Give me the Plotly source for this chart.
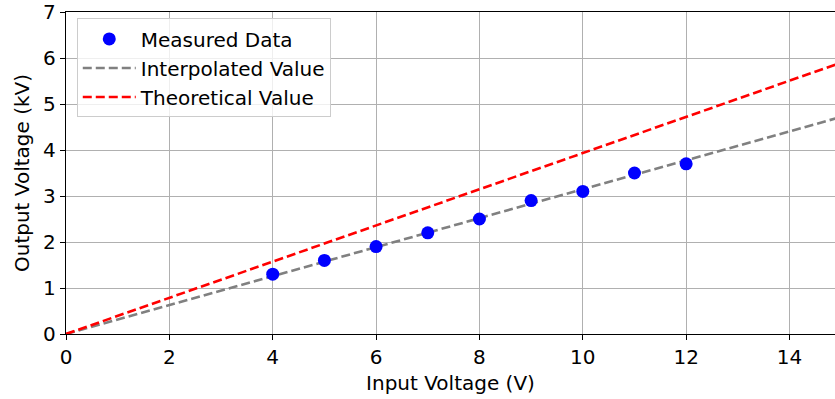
import plotly.graph_objects as go

measured_x = [4, 5, 6, 7, 8, 9, 10, 11, 12]
measured_y = [1.3, 1.6, 1.9, 2.2, 2.5, 2.9, 3.1, 3.5, 3.7]
interp_x = [0, 15]
interp_y = [0, 4.72]
theory_x = [0, 15]
theory_y = [0, 5.9]

FONT = "DejaVu Sans"
FS = 20
fig = go.Figure()
fig.add_trace(go.Scatter(x=interp_x, y=interp_y, mode="lines", name="Interpolated Value",
                         line=dict(color="gray", width=2.6, dash="9px,4px"),
                         legendrank=2, legendgroup="b"))
fig.add_trace(go.Scatter(x=theory_x, y=theory_y, mode="lines", name="Theoretical Value",
                         line=dict(color="red", width=2.6, dash="9px,4px"),
                         legendrank=3, legendgroup="c"))
fig.add_trace(go.Scatter(x=measured_x, y=measured_y, mode="markers", name="Measured Data",
                         marker=dict(color="blue", size=13), legendrank=1, legendgroup="a"))

axis_common = dict(showgrid=True, gridcolor="#b0b0b0", gridwidth=1.2, showline=True,
                   linecolor="black", linewidth=1.3, ticks="outside", ticklen=5,
                   tickcolor="black", tickfont=dict(family=FONT, size=FS, color="black"),
                   zeroline=False)
fig.update_layout(
    width=835, height=399,
    margin=dict(l=66, r=0, t=12, b=65),
    plot_bgcolor="white", paper_bgcolor="white",
    font=dict(family=FONT, size=FS, color="black"),
    xaxis=dict(range=[0, 14.88], dtick=2, mirror=True,
               title=dict(text="Input Voltage (V)", font=dict(family=FONT, size=FS), standoff=7),
               **axis_common),
    yaxis=dict(range=[0, 7], dtick=1,
               title=dict(text="Output Voltage (kV)", font=dict(family=FONT, size=FS), standoff=8),
               **axis_common),
    legend=dict(x=0.014, y=0.98, xanchor="left", yanchor="top", bgcolor="rgba(255,255,255,0.8)",
                bordercolor="#cccccc", borderwidth=1, font=dict(family=FONT, size=FS),
                itemwidth=53, traceorder="grouped", tracegroupgap=0),
    showlegend=True,
)
fig.write_html("out.html")
